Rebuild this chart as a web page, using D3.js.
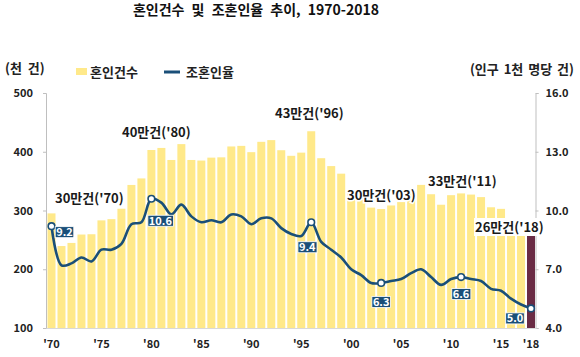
<!DOCTYPE html>
<html><head><meta charset="utf-8">
<script src="https://cdn.jsdelivr.net/npm/d3@7"></script>
<style>
html,body{margin:0;padding:0;background:#fff;}
text{font-family:"Noto Sans CJK KR","Noto Sans",sans-serif;font-weight:700;}
</style></head>
<body><svg id="c" width="580" height="357"></svg>
<script>
const years = d3.range(1970, 2019);
const marriages = [295.1, 239.5, 244.8, 259.1, 259.6, 283.2, 285.3, 303.0, 343.5, 354.6,
  403.0, 406.5, 386.0, 413.0, 386.0, 385.0, 390.0, 390.5, 409.0, 410.0,
  399.3, 416.9, 419.8, 402.6, 393.1, 398.5, 434.9, 389.0, 375.6, 362.7,
  332.1, 318.4, 304.9, 302.5, 308.6, 314.3, 330.6, 343.6, 327.7, 309.8,
  326.1, 329.1, 327.1, 322.8, 305.5, 302.8, 281.6, 264.5, 257.6];
const rates = [9.2, 7.2, 7.3, 7.6, 7.4, 8.0, 8.0, 8.3, 9.3, 9.4,
  10.6, 10.4, 9.8, 10.3, 9.7, 9.4, 9.5, 9.4, 9.8, 9.7,
  9.3, 9.6, 9.6, 9.1, 8.8, 8.7, 9.4, 8.4, 8.0, 7.6,
  7.0, 6.7, 6.3, 6.3, 6.4, 6.5, 6.8, 7.0, 6.6, 6.2,
  6.5, 6.6, 6.5, 6.4, 6.0, 5.9, 5.5, 5.2, 5.0];
const leftTicks = [100, 200, 300, 400, 500];
const rightTicks = [4, 7, 10, 13, 16];
const xTickYears = [1970, 1975, 1980, 1985, 1990, 1995, 2000, 2005, 2010, 2015, 2018];
const markedYears = [1970, 1980, 1996, 2003, 2011, 2018];
const peakYears = [1970, 1980, 1996, 2003, 2011, 2018];
const peakLabels = ["30만건('70)", "40만건('80)", "43만건('96)", "30만건('03)", "33만건('11)", "26만건('18)"];

// layout (not data)
const labelBoxOffsets = {1970:[13,6],1980:[9,22],1996:[-4,25],2003:[0,19],2011:[0,17],2018:[-16,10]};
const peakTextPos = {1970:[55,203],1980:[122,137],1996:[275,118],2003:[347,200],2011:[428,186],2018:[475,232]};

const svg = d3.select("#c");
const x = d3.scaleBand().domain(years).range([46.5, 536]).paddingInner(0.2).paddingOuter(0.1);
const yL = d3.scaleLinear().domain([100, 500]).range([328, 93]);
const yR = d3.scaleLinear().domain([4, 16]).range([328, 93]);

// title
svg.append("text").attr("x", 256).attr("y", 15).attr("text-anchor", "middle")
  .attr("font-size", 14).attr("word-spacing", 4).attr("fill", "#111").text("혼인건수 및 조혼인율 추이, 1970-2018");

// bars
svg.append("g").selectAll("rect").data(years).join("rect")
  .attr("x", d => x(d)).attr("width", x.bandwidth())
  .attr("y", (d, i) => yL(marriages[i]))
  .attr("height", (d, i) => yL(100) - yL(marriages[i]))
  .attr("fill", d => d === 2018 ? "#6a2b44" : "#ffe98a");

// axes
const gl = svg.append("g").attr("transform", "translate(46,0)")
  .call(d3.axisLeft(yL).tickValues(leftTicks).tickSize(3).tickPadding(10));
const gr = svg.append("g").attr("transform", "translate(535.5,0)")
  .call(d3.axisRight(yR).tickValues(rightTicks).tickSize(3).tickPadding(7).tickFormat(d3.format(".1f")));
const gb = svg.append("g").attr("transform", "translate(0,328)")
  .call(d3.axisBottom(x).tickValues(xTickYears).tickSize(0).tickPadding(12)
    .tickFormat(d => "'" + String(d).slice(2)));
[gl, gr, gb].forEach(g => {
  g.selectAll("path,line").attr("stroke", "#bfbfbf");
  g.selectAll("text").attr("font-size", 11).attr("fill", "#222")
    .attr("font-family", '"Noto Sans CJK KR","Noto Sans",sans-serif').attr("font-weight", 700);
});
gb.select("path").attr("stroke", "#d9d9d9");

// line
const line = d3.line().x((d, i) => x(years[i]) + x.bandwidth() / 2).y(d => yR(d))
  .curve(d3.curveCatmullRom.alpha(0.5));
svg.append("path").datum(rates).attr("d", line).attr("fill", "none")
  .attr("stroke", "#1a4f78").attr("stroke-width", 2.6);

// markers and value boxes
markedYears.forEach(yr => {
  const i = years.indexOf(yr);
  const cx = x(yr) + x.bandwidth() / 2, cy = yR(rates[i]);
  svg.append("circle").attr("cx", cx).attr("cy", cy).attr("r", 3.3)
    .attr("fill", "#fff").attr("stroke", "#1a4f78").attr("stroke-width", 1.6);
  const [dx, dy] = labelBoxOffsets[yr];
  const t = svg.append("text").attr("x", cx + dx).attr("y", cy + dy + 4)
    .attr("text-anchor", "middle").attr("font-size", 11).attr("fill", "#fff")
    .text(rates[i].toFixed(1));
  const b = t.node().getBBox();
  svg.insert("rect", () => t.node()).attr("x", b.x - 1).attr("y", cy + dy - 5.5)
    .attr("width", b.width + 2).attr("height", 11).attr("fill", "#1a4f78")
    .attr("stroke", "#fff").attr("stroke-width", 0.8);
});

// peak annotations
peakYears.forEach((yr, k) => {
  const [tx, ty] = peakTextPos[yr];
  const t = svg.append("text").attr("x", tx).attr("y", ty).attr("font-size", 13)
    .attr("fill", "#1a1a1a").text(peakLabels[k]);
  if (yr === 2018) {
    const b = t.node().getBBox();
    svg.insert("rect", () => t.node()).attr("x", b.x - 1).attr("y", b.y + 1)
      .attr("width", b.width + 2).attr("height", b.height - 1).attr("fill", "#fff");
  } else {
    t.attr("stroke", "#fff").attr("stroke-width", 3).attr("paint-order", "stroke");
  }
});

// axis titles
svg.append("text").attr("x", 5).attr("y", 73).attr("font-size", 13).attr("word-spacing", 3)
  .attr("fill", "#222").text("(천 건)");
svg.append("text").attr("x", 574).attr("y", 74).attr("text-anchor", "end").attr("font-size", 13)
  .attr("word-spacing", 2).attr("fill", "#222").text("(인구 1천 명당 건)");

// legend
svg.append("rect").attr("x", 76).attr("y", 68).attr("width", 11).attr("height", 7).attr("fill", "#ffe98a");
svg.append("text").attr("x", 90).attr("y", 77).attr("font-size", 13).attr("fill", "#222").text("혼인건수");
svg.append("line").attr("x1", 164).attr("x2", 180).attr("y1", 72).attr("y2", 72)
  .attr("stroke", "#1a4f78").attr("stroke-width", 3);
svg.append("text").attr("x", 186).attr("y", 77).attr("font-size", 13).attr("fill", "#222").text("조혼인율");
</script></body></html>
